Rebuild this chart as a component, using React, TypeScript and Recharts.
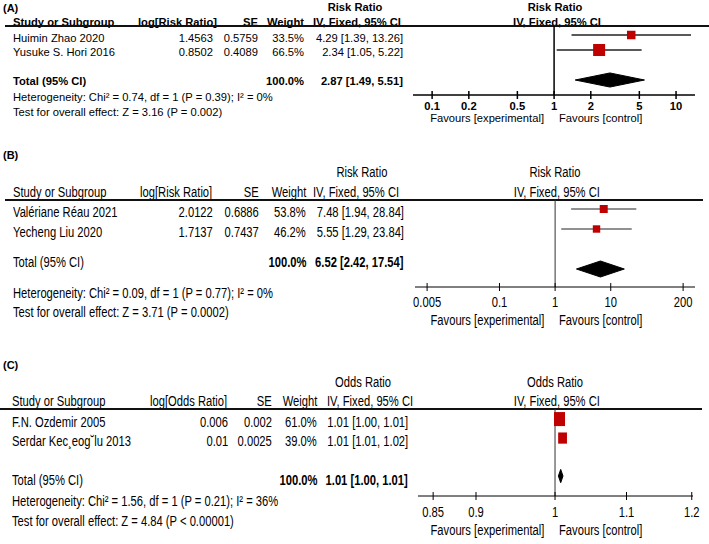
import React from "react";
import {
  ComposedChart,
  Scatter,
  Area,
  XAxis,
  YAxis,
  ReferenceLine,
  ErrorBar,
} from "recharts";

// (A) Risk ratio
const studiesA = ["Huimin Zhao 2020", "Yusuke S. Hori 2016"];
const logA = [1.4563, 0.8502];
const seA = [0.5759, 0.4089];
const weightA = [33.5, 66.5];
const estA = [4.29, 2.34];
const loA = [1.39, 1.05];
const hiA = [13.26, 5.22];
const totalA = [2.87, 1.49, 5.51];
const hetA = "Heterogeneity: Chi² = 0.74, df = 1 (P = 0.39); I² = 0%";
const testA = "Test for overall effect: Z = 3.16 (P = 0.002)";
const ticksA = [0.1, 0.2, 0.5, 1, 2, 5, 10];

// (B) Risk ratio
const studiesB = ["Valériane Réau 2021", "Yecheng Liu 2020"];
const logB = [2.0122, 1.7137];
const seB = [0.6886, 0.7437];
const weightB = [53.8, 46.2];
const estB = [7.48, 5.55];
const loB = [1.94, 1.29];
const hiB = [28.84, 23.84];
const totalB = [6.52, 2.42, 17.54];
const hetB = "Heterogeneity: Chi² = 0.09, df = 1 (P = 0.77); I² = 0%";
const testB = "Test for overall effect: Z = 3.71 (P = 0.0002)";
const ticksB = [0.005, 0.1, 1, 10, 200];

// (C) Odds ratio (printed to 2 decimals, kept a bit finer so the marks separate)
const studiesC = ["F.N. Ozdemir 2005", "Serdar Kec¸eog˘lu 2013"];
const logC = [0.006, 0.01];
const seC = [0.002, 0.0025];
const weightC = [61.0, 39.0];
const estC = [1.006, 1.0101];
const loC = [1.0021, 1.0052];
const hiC = [1.0099, 1.0151];
const totalC = [1.0076, 1.0045, 1.0107];
const hetC = "Heterogeneity: Chi² = 1.56, df = 1 (P = 0.21); I² = 36%";
const testC = "Test for overall effect: Z = 4.84 (P < 0.00001)";
const ticksC = [0.85, 0.9, 1, 1.1, 1.2];

const RED = "#c00000";

const Txt = ({ x, y, a = "start", size, sx = 1, bold = false, children }: any) => {
  const w = 600;
  const left = a === "start" ? x : a === "end" ? x - w : x - w / 2;
  const align = a === "start" ? "left" : a === "end" ? "right" : "center";
  return (
    <div
      style={{
        position: "absolute",
        left,
        top: y - size * 0.54,
        width: w,
        height: size * 1.1,
        lineHeight: `${size * 1.1}px`,
        fontSize: size,
        fontWeight: bold ? 700 : 400,
        textAlign: align as any,
        whiteSpace: "nowrap",
      }}
    >
      <span
        style={{
          display: "inline-block",
          transform: `scaleX(${sx})`,
          transformOrigin: align,
        }}
      >
        {children}
      </span>
    </div>
  );
};

const fmtCI = (e: number, l: number, h: number) =>
  `${e.toFixed(2)} [${l.toFixed(2)}, ${h.toFixed(2)}]`;

const Panel = ({ p }: any) => {
  const { L } = p;
  const f = { size: L.font, sx: L.sx };
  const pts = p.est.map((e: number, i: number) => ({
    x: e,
    row: i,
    w: p.weight[i],
    err: [e - p.lo[i], p.hi[i] - e],
  }));
  const tr = 3;
  const diamond = [
    { x: p.total[1], band: [tr, tr] },
    { x: p.total[0], band: [tr - L.dh, tr + L.dh] },
    { x: p.total[2], band: [tr, tr] },
  ];
  const pad = 24;
  const plotW = L.plotX[1] - L.plotX[0];
  const plotH = L.plotY[1] - L.plotY[0];

  const renderTick = (props: any) => {
    const { x, y, payload } = props;
    return (
      <g>
        <line x1={x} x2={x} y1={y - 4} y2={y + 4} stroke="#000" strokeWidth={L.lw} />
        <text
          transform={`translate(${x},${y + L.tickDy + L.font * 0.36}) scale(${L.sx},1)`}
          textAnchor="middle"
          fontSize={L.font}
          fontWeight={L.tb ? 700 : 400}
          fill="#000"
          fontFamily="'Liberation Sans', Arial, sans-serif"
        >
          {String(payload.value)}
        </text>
      </g>
    );
  };

  const renderSquare = (props: any) => {
    const { cx, cy, payload } = props;
    const s = L.sq * Math.sqrt(payload.w);
    const h = s * L.sqY;
    return <rect x={cx - s / 2} y={cy - h / 2} width={s} height={h} fill={RED} />;
  };

  return (
    <>
      <Txt x={3} y={L.rows.tag} size={11} bold>
        {p.tag}
      </Txt>
      <Txt x={L.cols.rr} y={L.rows.title} a="middle" {...f} bold={L.hb}>
        {p.measure}
      </Txt>
      <Txt x={555} y={L.rows.title} a="middle" {...f} bold={L.hb}>
        {p.measure}
      </Txt>
      <Txt x={L.cols.name} y={L.rows.head} {...f} bold={L.hb}>
        Study or Subgroup
      </Txt>
      <Txt x={L.cols.logH} y={L.rows.head} {...f} bold={L.hb}>
        {`log[${p.measure}]`}
      </Txt>
      <Txt x={L.cols.se} y={L.rows.head} a="end" {...f} bold={L.hb}>
        SE
      </Txt>
      <Txt x={L.cols.w} y={L.rows.head} a="end" {...f} bold={L.hb}>
        Weight
      </Txt>
      <Txt x={L.cols.iv} y={L.rows.head} {...f} bold={L.hb}>
        IV, Fixed, 95% CI
      </Txt>
      <Txt x={557} y={L.rows.head} a="middle" {...f} bold={L.hb}>
        IV, Fixed, 95% CI
      </Txt>
      <div
        style={{
          position: "absolute",
          left: L.line[0],
          width: L.line[1] - L.line[0],
          top: L.plotY[0] - 0.75,
          height: 1.5,
          background: "#111",
        }}
      />
      {p.studies.map((s: string, i: number) => (
        <React.Fragment key={s}>
          <Txt x={L.cols.name} y={L.rows.study[i]} {...f}>
            {s}
          </Txt>
          <Txt x={L.cols.log} y={L.rows.study[i]} a="end" {...f}>
            {String(p.log[i])}
          </Txt>
          <Txt x={L.cols.se} y={L.rows.study[i]} a="end" {...f}>
            {String(p.se[i])}
          </Txt>
          <Txt x={L.cols.w} y={L.rows.study[i]} a="end" {...f}>
            {`${p.weight[i].toFixed(1)}%`}
          </Txt>
          <Txt x={L.cols.ci} y={L.rows.study[i]} a="end" {...f}>
            {fmtCI(p.est[i], p.lo[i], p.hi[i])}
          </Txt>
        </React.Fragment>
      ))}
      <Txt x={L.cols.name} y={L.rows.total} {...f} bold={L.hb}>
        Total (95% CI)
      </Txt>
      <Txt x={L.cols.w} y={L.rows.total} a="end" {...f} bold>
        100.0%
      </Txt>
      <Txt x={L.cols.ci} y={L.rows.total} a="end" {...f} bold>
        {fmtCI(p.total[0], p.total[1], p.total[2])}
      </Txt>
      <Txt x={L.cols.name} y={L.rows.het} {...f}>
        {p.het}
      </Txt>
      <Txt x={L.cols.name} y={L.rows.test} {...f}>
        {p.test}
      </Txt>
      <Txt x={544} y={L.rows.fav} a="end" {...f}>
        Favours [experimental]
      </Txt>
      <Txt x={559} y={L.rows.fav} {...f}>
        Favours [control]
      </Txt>

      <div style={{ position: "absolute", left: L.plotX[0] - pad, top: L.plotY[0] }}>
        <ComposedChart
          width={plotW + 2 * pad}
          height={plotH + 30}
          data={diamond}
          margin={{ top: 0, right: pad, bottom: 0, left: pad }}
        >
          <XAxis
            type="number"
            dataKey="x"
            scale="log"
            domain={L.domain}
            allowDataOverflow
            ticks={p.ticks}
            interval={0}
            height={30}
            tickSize={0}
            tickMargin={0}
            tickLine={false}
            axisLine={{ stroke: "#000", strokeWidth: L.lw }}
            tick={renderTick}
          />
          <YAxis type="number" dataKey="row" domain={L.rowDomain} reversed hide allowDataOverflow />
          <ReferenceLine x={1} stroke={L.refColor} strokeWidth={L.lw} ifOverflow="visible" />
          <Area
            dataKey="band"
            type="linear"
            stroke="#000"
            fill="#000"
            fillOpacity={1}
            isAnimationActive={false}
          />
          <Scatter data={pts} shape={renderSquare} isAnimationActive={false}>
            <ErrorBar dataKey="err" direction="x" width={0} stroke="#222" strokeWidth={L.lw} />
          </Scatter>
        </ComposedChart>
      </div>
    </>
  );
};

const panels = [
  {
    tag: "(A)",
    measure: "Risk Ratio",
    studies: studiesA,
    log: logA,
    se: seA,
    weight: weightA,
    est: estA,
    lo: loA,
    hi: hiA,
    total: totalA,
    het: hetA,
    test: testA,
    ticks: ticksA,
    L: {
      font: 11.2,
      sx: 1,
      hb: true,
      tb: true,
      lw: 1.5,
      refColor: "#000",
      plotX: [413, 695],
      plotY: [26, 95],
      domain: [0.0697, 14.3],
      rowDomain: [-0.6, 4.0],
      tickDy: 10.5,
      dh: 0.47,
      sq: 1.47,
      sqY: 1,
      line: [5, 709],
      rows: { tag: 8, title: 7, head: 22, study: [38, 52], total: 81, het: 97, test: 112, fav: 118.5 },
      cols: { name: 13, logH: 138, log: 213, se: 258, w: 304, iv: 313, ci: 403, rr: 355 },
    },
  },
  {
    tag: "(B)",
    measure: "Risk Ratio",
    studies: studiesB,
    log: logB,
    se: seB,
    weight: weightB,
    est: estB,
    lo: loB,
    hi: hiB,
    total: totalB,
    het: hetB,
    test: testB,
    ticks: ticksB,
    L: {
      font: 14,
      sx: 0.8,
      hb: false,
      tb: false,
      lw: 1,
      refColor: "#333",
      plotX: [415, 695],
      plotY: [200, 287],
      domain: [0.00303, 327],
      rowDomain: [-0.45, 3.9],
      tickDy: 15,
      dh: 0.4,
      sq: 1.09,
      sqY: 1,
      line: [5, 703],
      rows: { tag: 155, title: 173, head: 193, study: [213, 233], total: 263, het: 294, test: 313, fav: 321 },
      cols: { name: 13, logH: 140, log: 213, se: 259, w: 306, iv: 313, ci: 404, rr: 362 },
    },
  },
  {
    tag: "(C)",
    measure: "Odds Ratio",
    studies: studiesC,
    log: logC,
    se: seC,
    weight: weightC,
    est: estC,
    lo: loC,
    hi: hiC,
    total: totalC,
    het: hetC,
    test: testC,
    ticks: ticksC,
    L: {
      font: 14,
      sx: 0.8,
      hb: false,
      tb: false,
      lw: 1,
      refColor: "#333",
      plotX: [418, 693],
      plotY: [409, 496],
      domain: [0.833, 1.202],
      rowDomain: [-0.53, 4.05],
      tickDy: 16,
      dh: 0.35,
      sq: 1.41,
      sqY: 1.27,
      line: [0, 702],
      rows: { tag: 365, title: 383, head: 402, study: [423, 442], total: 481, het: 502, test: 522, fav: 531 },
      cols: { name: 12, logH: 150, log: 228, se: 272, w: 317, iv: 327, ci: 408, rr: 363 },
    },
  },
];

export default function App() {
  return (
    <div
      style={{
        position: "fixed",
        left: 0,
        top: 0,
        width: 709,
        height: 544,
        background: "#fff",
        overflow: "hidden",
        fontFamily: "'Liberation Sans', Arial, sans-serif",
        color: "#000",
      }}
    >
      {panels.map((p) => (
        <Panel key={p.tag} p={p} />
      ))}
    </div>
  );
}
